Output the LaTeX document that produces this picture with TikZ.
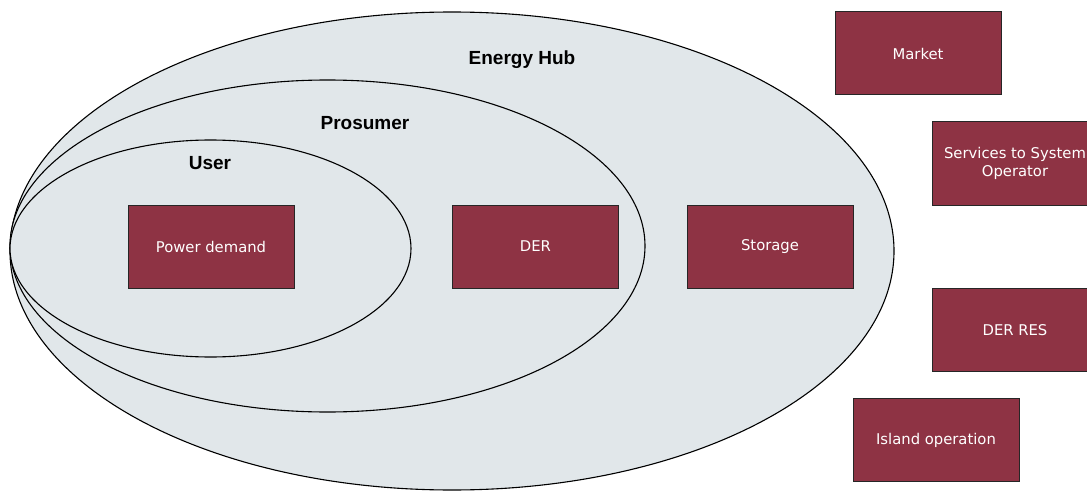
\documentclass[tikz,border=0pt]{standalone}
\usepackage{fontspec}
\setmainfont{DejaVu Sans}
\newfontfamily\labfont{Liberation Sans}
\usetikzlibrary{shapes.geometric}
\definecolor{boxred}{HTML}{8E3344}
\definecolor{hubfill}{HTML}{E1E7EA}
\tikzset{
  ring/.style={ellipse, draw=black, fill=hubfill, line width=1.1pt, inner sep=0pt},
  itembox/.style={rectangle, draw=black!85, fill=boxred, line width=1pt, minimum width=166pt, minimum height=83pt, text=white, font=\fontsize{14.8}{18}\selectfont, align=center, inner sep=0pt},
  ringlabel/.style={font=\labfont\bfseries\fontsize{19}{22}\selectfont, text=black}
}
\begin{document}
\begin{tikzpicture}[x=1pt,y=-1pt]
\useasboundingbox (0,0) rectangle (1087,492);
\clip (0,0) rectangle (1087,492);
\node[ring, minimum width=884pt, minimum height=478pt] (hub) at (452,251) {};
\node[ring, minimum width=635pt, minimum height=332pt] (prosumer) at (327.5,246) {};
\node[ring, minimum width=401pt, minimum height=217pt] (user) at (210.5,248.5) {};
\node[ringlabel] (hublabel) at (522,60) {Energy Hub};
\node[ringlabel] (prolabel) at (365,123) {Prosumer};
\node[ringlabel] (userlabel) at (210,163) {User};
\node[itembox] (demand) at (211,246.5) {Power demand};
\node[itembox] (der) at (535.5,246.5) {DER};
\node[itembox] (storage) at (770,246.5) {Storage};
\node[itembox] (market) at (918,53.5) {Market};
\node[itembox] (services) at (1015,163.5) {Services to System\\Operator};
\node[itembox] (derres) at (1015,330) {DER RES};
\node[itembox] (island) at (936,440) {Island operation};
\end{tikzpicture}
\end{document}
